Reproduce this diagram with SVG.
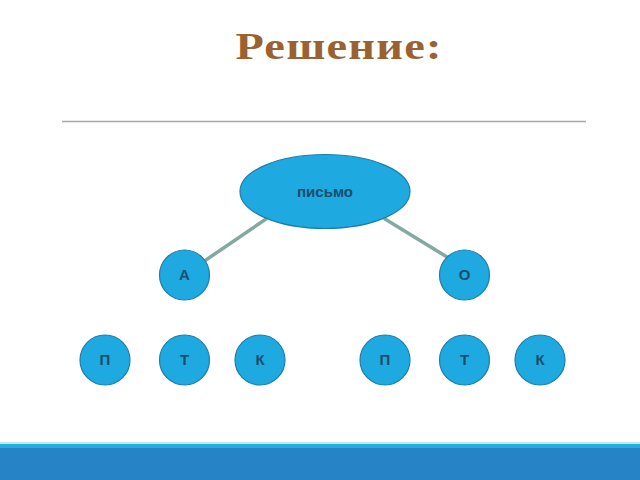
<svg xmlns="http://www.w3.org/2000/svg" width="640" height="480" viewBox="0 0 640 480">
<style>
.node{fill:#1EA9E1;stroke:#1B7FA8;stroke-width:1.2}
.lbl{font-family:"Liberation Sans",Arial,sans-serif;font-weight:bold;font-size:15px;fill:#1A4E6E;text-anchor:middle}
.conn{stroke:#86A8A2;stroke-width:3.5;stroke-linecap:round}
</style>
<rect width="640" height="480" fill="#FFFFFF"/>
<text transform="translate(339 59) scale(1.22 1)" x="0" y="0" font-family="'Liberation Serif','Times New Roman',serif" font-weight="bold" font-size="38" fill="#9A6230" text-anchor="middle" letter-spacing="1">Решение:</text>
<line x1="62" y1="121.5" x2="586" y2="121.5" stroke="#A8A8A8" stroke-width="1.5"/>
<g id="connectors">
<line class="conn" x1="266" y1="219" x2="203" y2="262"/>
<line class="conn" x1="385" y1="219" x2="447" y2="257"/>
</g>
<g id="n-pismo"><ellipse class="node" cx="325" cy="191.5" rx="85" ry="37"/><text class="lbl" x="325" y="197">письмо</text></g>
<g id="n-A"><circle class="node" cx="184.5" cy="275" r="25"/><text class="lbl" x="184.5" y="280">А</text></g>
<g id="n-O"><circle class="node" cx="464.5" cy="275" r="25"/><text class="lbl" x="464.5" y="280">О</text></g>
<g id="n-P1"><circle class="node" cx="105" cy="360" r="25"/><text class="lbl" x="105" y="365">П</text></g>
<g id="n-T1"><circle class="node" cx="184.5" cy="360" r="25"/><text class="lbl" x="184.5" y="365">Т</text></g>
<g id="n-K1"><circle class="node" cx="260" cy="360" r="25"/><text class="lbl" x="260" y="365">К</text></g>
<g id="n-P2"><circle class="node" cx="385" cy="360" r="25"/><text class="lbl" x="385" y="365">П</text></g>
<g id="n-T2"><circle class="node" cx="464.5" cy="360" r="25"/><text class="lbl" x="464.5" y="365">Т</text></g>
<g id="n-K2"><circle class="node" cx="540" cy="360" r="25"/><text class="lbl" x="540" y="365">К</text></g>
<rect x="0" y="442" width="640" height="2" fill="#BFE9F5"/>
<rect x="0" y="444" width="640" height="4" fill="#21AEE0"/>
<rect x="0" y="448" width="640" height="32" fill="#2683C6"/>
</svg>
